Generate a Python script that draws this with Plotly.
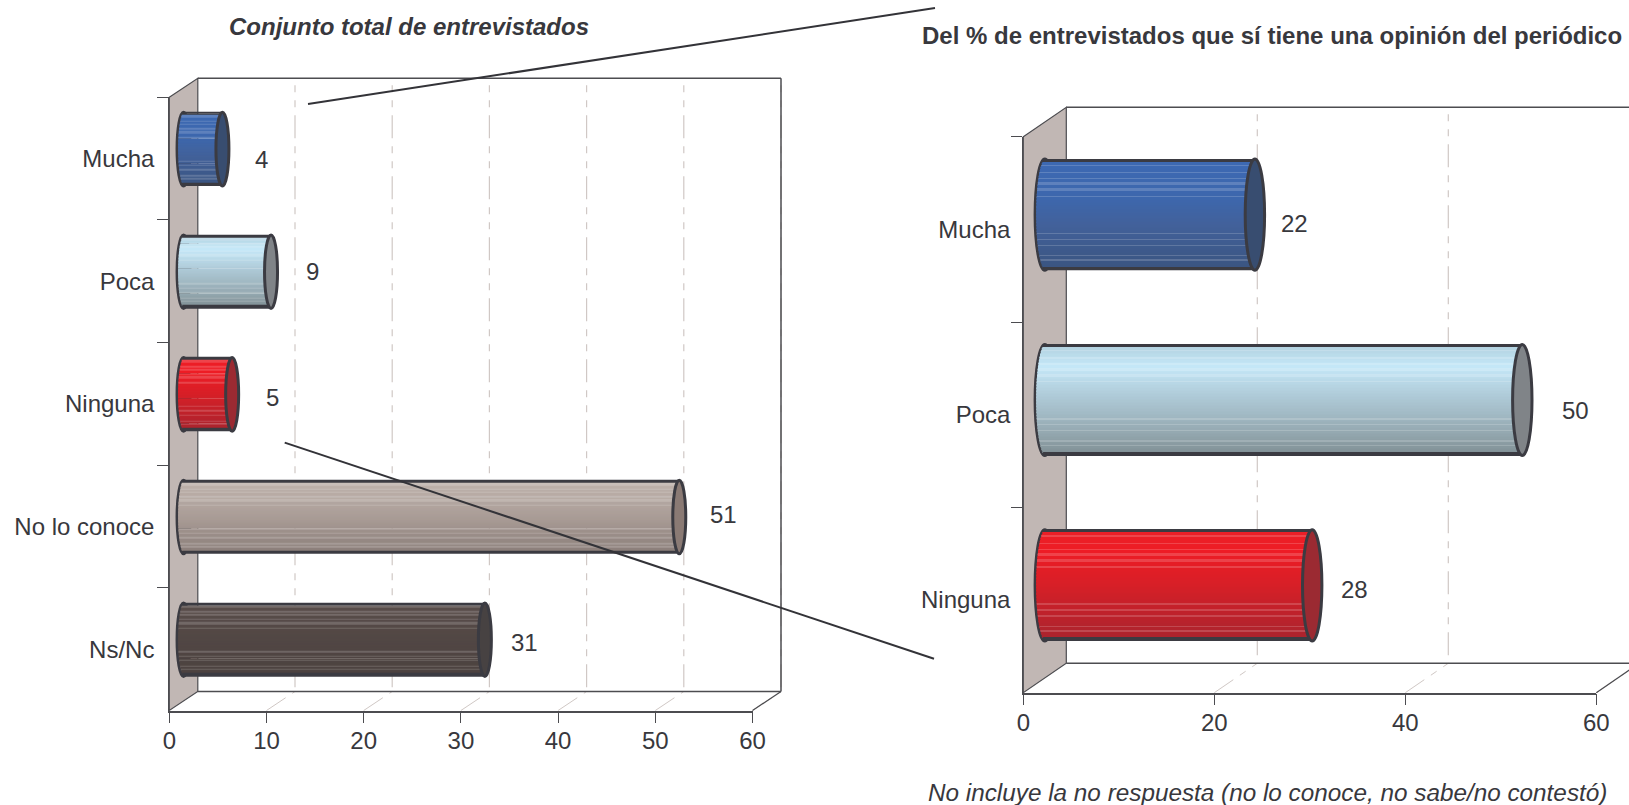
import math
import plotly.graph_objects as go

W, H = 1629, 805

# ---------- data ----------
cats_left = ["Mucha", "Poca", "Ninguna", "No lo conoce", "Ns/Nc"]
vals_left = [4, 9, 5, 51, 31]
cats_right = ["Mucha", "Poca", "Ninguna"]
vals_right = [22, 50, 28]
ticks_left = [0, 10, 20, 30, 40, 50, 60]
ticks_right = [0, 20, 40, 60]
title_left = "Conjunto total de entrevistados"
title_right = "Del % de entrevistados que sí tiene una opinión del periódico"
footnote = "No incluye la no respuesta (no lo conoce, no sabe/no contestó)"

# ---------- style ----------
FONT = "Liberation Sans, Arial, sans-serif"
TXT = "#38383d"
DARK = "#3b3b42"
FRAME = "#4c4c50"
WALL = "#c1b7b4"
GRID = "#d0c8c5"
RAMPS = {
    "Mucha": [(0, "#3d69b3"), (.35, "#3d67ad"), (.6, "#42619a"), (1, "#3a5480")],
    "Poca": [(0, "#b0cfdd"), (.2, "#c5e8f8"), (.5, "#acc7d4"), (.8, "#94a8b0"), (1, "#7f8e93")],
    "Ninguna": [(0, "#ea2027"), (.2, "#ee1c25"), (.5, "#d71f27"), (1, "#a8242e")],
    "No lo conoce": [(0, "#c0b4ae"), (.5, "#aa9d97"), (1, "#8a7d78")],
    "Ns/Nc": [(0, "#5a4e4c"), (.4, "#534845"), (1, "#4c4240")],
}
CAPS = {"Mucha": "#384d70", "Poca": "#808488", "Ninguna": "#9b2a32",
        "No lo conoce": "#8a7a74", "Ns/Nc": "#474242"}
SHEEN = [.06, .126, .178, .226, .28, .343, .675, .728, .783, .873, .91]
GRID_DASH = "7px,8px,7px,8px,23px,8px"
FLOOR_DASH = "23px,8px,7px,8px,7px,8px"


def rgb(h):
    return [int(h[i:i + 2], 16) for i in (1, 3, 5)]


def ramp(cat, t):
    stops = RAMPS[cat]
    for (a, ca), (b, cb) in zip(stops, stops[1:]):
        if t <= b:
            f = (t - a) / (b - a)
            return [ca_ + (cb_ - ca_) * f for ca_, cb_ in zip(rgb(ca), rgb(cb))]
    return rgb(stops[-1][1])


def strip_colour(cat, t, tol):
    c = ramp(cat, t)
    if any(abs(t - s) < tol for s in SHEEN):
        c = [v + (255 - v) * .17 for v in c]
    return "rgb(%d,%d,%d)" % tuple(round(v) for v in c)


px = lambda x: x / W
py = lambda y: 1 - y / H

fig = go.Figure()
shapes, annots = [], []


def line(x0, y0, x1, y1, color=FRAME, width=1.5, dash=None, layer="below"):
    shapes.append(dict(type="line", xref="paper", yref="paper", x0=px(x0), y0=py(y0),
                       x1=px(x1), y1=py(y1), layer=layer,
                       line=dict(color=color, width=width, dash=dash or "solid")))


def chart(cats, vals, ticks, n, ax, geo, shifts, standoff):
    x0, x60, ytop, yfloor, dx, dy, hw, nstrip = geo
    unit = (x60 - x0) / 60
    a, b = ax, ax + 1
    fx, fy = f"x{a}" if a > 1 else "x", f"y{a}" if a > 1 else "y"
    bx, by = f"x{b}", f"y{b}"
    # 3D frame
    bt, bb = ytop + dy, yfloor + dy
    bl = x0 + dx
    path = (f"M {px(x0)} {py(ytop)} L {px(bl)} {py(bt)} L {px(bl)} {py(bb)} "
            f"L {px(x0)} {py(yfloor)} Z")
    shapes.append(dict(type="path", xref="paper", yref="paper", path=path, layer="below",
                       fillcolor=WALL, line=dict(color=FRAME, width=1.2)))
    for t in ticks[1:]:
        fx_ = x0 + t * unit
        if fx_ + dx < W:
            line(fx_ + dx, bt + 7, fx_ + dx, bb, GRID, 1.2, GRID_DASH)
        line(fx_, yfloor, fx_ + dx, bb, GRID, 1, FLOOR_DASH)
    right_back = x60 + dx
    line(bl, bt, right_back, bt)
    line(bl, bb, right_back, bb)
    line(right_back, bb, right_back, bt)
    line(x60, yfloor, right_back, bb, FRAME, 1.2)
    # invisible trace that carries the visible front axes
    fig.add_trace(go.Bar(x=vals, y=cats, orientation="h", xaxis=fx, yaxis=fy,
                         marker=dict(opacity=0), hoverinfo="skip", showlegend=False))
    # cylinder body, one thin slice per shading band
    full = .6
    dw = full / nstrip
    for k in range(nstrip):
        t = (k + .5) / nstrip
        u = 2 * t - 1
        bulge = max(hw * math.sqrt(1 - u * u) - 1, 0) / unit
        edge = k < 2 or k >= nstrip - 2
        colors = [DARK if edge else strip_colour(c, t, .6 / nstrip) for c in cats]
        fig.add_trace(go.Bar(
            x=[v + bulge for v in vals], y=cats, base=[-bulge] * n, orientation="h",
            width=dw * 1.02, offset=-full / 2 + k * dw,
            marker=dict(color=colors, line=dict(width=0)),
            xaxis=bx, yaxis=by, hoverinfo="skip", showlegend=False))
    # cylinder caps
    for i, (c, v) in enumerate(zip(cats, vals)):
        common = dict(type="circle", xref=bx, yref=by, xsizemode="pixel",
                      y0=i - full / 2, y1=i + full / 2, x0=-hw, x1=hw)
        shapes.append(dict(common, xanchor=0, layer="below",
                           fillcolor=DARK, line=dict(color=DARK, width=3)))
        shapes.append(dict(common, xanchor=v, layer="above",
                           fillcolor=CAPS[c], line=dict(color=DARK, width=3)))
        sx, sy = shifts[i]
        annots.append(dict(x=v, y=c, xref=bx, yref=by, text=str(v), showarrow=False,
                           xshift=sx, yshift=-sy, font=dict(size=24, color=TXT, family=FONT)))
    # axes
    pad = hw + 4
    common_x = dict(fixedrange=True, showgrid=False, zeroline=False, automargin=False)
    common_y = dict(categoryorder="array", categoryarray=cats, range=[n - .5, -.5],
                    fixedrange=True, showgrid=False, zeroline=False, automargin=False)
    xn = "xaxis" if a == 1 else f"xaxis{a}"
    yn = "yaxis" if a == 1 else f"yaxis{a}"
    lay = {
        xn: dict(common_x, range=[0, 60], domain=[px(x0), px(x60)], anchor=fy, tickmode="array",
                 tickvals=ticks, ticktext=[str(t) for t in ticks], ticks="outside", ticklen=11,
                 tickwidth=1.2, tickcolor=FRAME, showline=True, linecolor=FRAME, linewidth=1.5,
                 ticklabelstandoff=-3,
                 tickfont=dict(size=24, color=TXT, family=FONT)),
        yn: dict(common_y, domain=[py(yfloor), py(ytop)], anchor=fx, type="category",
                 tickson="boundaries", ticks="outside", ticklen=11, tickwidth=1.2,
                 tickcolor=FRAME, showline=True, linecolor=FRAME, linewidth=1.2,
                 ticklabelstandoff=standoff,
                 tickfont=dict(size=24, color=TXT, family=FONT)),
        f"xaxis{b}": dict(common_x, range=[-pad / unit, 60],
                          domain=[px(x0 + dx / 2 - pad), px(x60 + dx / 2)], anchor=by,
                          visible=False),
        f"yaxis{b}": dict(common_y, domain=[py(yfloor + dy / 2), py(ytop + dy / 2)], anchor=bx,
                          type="category", visible=False),
    }
    fig.update_layout(**lay)


chart(cats_left, vals_left, ticks_left, 5, 1,
      (169.3, 752.5, 97.3, 710.5, 28.5, -19, 6.5, 50),
      [(39.4, 10), (41.7, 0), (40, 3), (44.7, -3), (40, 2.6)], 9)
chart(cats_right, vals_right, ticks_right, 3, 3,
      (1023.3, 1596.3, 136.7, 692.7, 43, -29.4, 9.7, 75),
      [(39.7, 8.8), (52.7, 10), (42.8, 3.7)], 7)

# connectors between the two charts
line(308, 104, 935, 8, "#333338", 2, layer="above")
line(284.7, 442.6, 934, 658.7, "#333338", 2, layer="above")


def note(x, y, text, size, bold=False, italic=False):
    t = f"<b>{text}</b>" if bold else text
    annots.append(dict(xref="paper", yref="paper", x=px(x), y=py(y), text=t, showarrow=False,
                       xanchor="left", yanchor="middle", align="left",
                       font=dict(size=size, color=TXT, family=FONT,
                                 style="italic" if italic else "normal")))


note(226.5, 27, title_left, 24, bold=True, italic=True)
note(920, 35.3, title_right, 24, bold=True)
note(926, 792, footnote, 24.3, italic=True)

fig.update_layout(width=W, height=H, margin=dict(l=0, r=0, t=0, b=0, pad=0), barmode="overlay",
                  paper_bgcolor="white", plot_bgcolor="rgba(0,0,0,0)", showlegend=False,
                  shapes=shapes, annotations=annots)

fig.write_html("out.html", config=dict(displayModeBar=False),
               post_script="document.body.style.margin='0';document.body.style.overflow='hidden';")
